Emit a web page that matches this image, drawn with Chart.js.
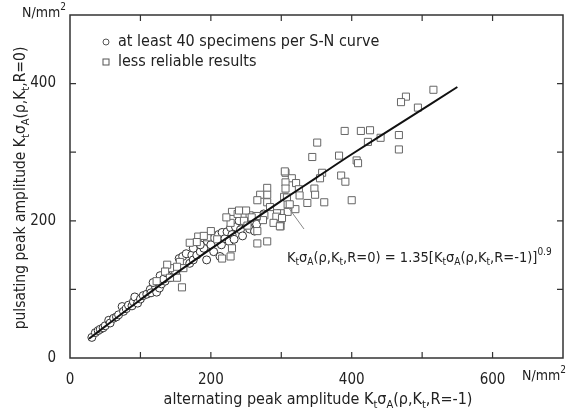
<!DOCTYPE html>
<html>
<head>
<meta charset="utf-8">
<script src="https://cdn.jsdelivr.net/npm/chart.js@4.4.1/dist/chart.umd.min.js"></script>
<style>html, body { margin: 0; background: #fff; }</style>
</head>
<body>
<canvas id="myChart" width="576" height="415"></canvas>
<script>
// circles: at least 40 specimens per S-N curve
const circleX = [31,36,40,43,47,50,55,57,62,66,69,74,76,80,83,88,90,92,96,100,104,109,114,115,121,123,127,130,135,142,118,128,133,137,146,150,155,160,165,170,173,175,180,185,190,194,195,200,204,205,213,215,211,216,220,223,226,228,230,233,235,240,242,245,250,255,260,262,265,270,275,185,175];
const circleY = [30,37,40,42,44,47,55,51,58,60,63,75,68,72,77,76,82,89,80,86,91,93,100,95,105,96,102,108,112,117,110,120,115,124,128,125,145,148,152,138,150,143,150,155,160,143,170,165,155,175,148,165,180,183,174,184,170,190,180,173,191,200,187,178,195,188,200,185,195,205,210,165,160];
// squares: less reliable results
const squareX = [516,477,470,494,390,413,426,351,423,441,467,467,344,382,407,409,358,355,385,391,347,348,337,361,400,306,315,306,321,306,325,326,304,309,320,309,299,299,299,280,280,270,266,280,284,308,312,294,293,301,289,298,276,274,265,266,280,230,238,255,265,266,228,247,252,230,216,228,182,180,195,209,159,152,156,161,152,142,138,135,142,123,305,250,258,240,222,200,190,170];
const squareY = [391,381,373,365,331,331,332,314,315,321,325,304,293,295,288,284,270,262,266,257,247,238,226,227,230,270,262,256,255,247,246,237,235,224,217,213,211,201,192,248,238,238,230,227,220,234,224,211,206,204,197,192,208,201,206,167,170,213,210,208,207,185,197,200,193,160,145,148,177,169,176,173,103,117,140,131,133,131,136,126,117,112,272,215,205,215,205,185,178,168];
// fitted curve
const fitX = [27,60,100,150,200,250,300,350,400,475,550];
const fitY = [28,54,85,123,159,194,229,263,297,346,395];
const xLabels = [0, 200, 400, 600];
const yLabels = [0, 200, 400];

const FONT = "'DejaVu Sans Condensed', 'Liberation Sans Narrow', sans-serif";
const INK = '#222';

function toPts(xs, ys) {
  return xs.map((x, i) => ({ x: x, y: ys[i] }));
}

// text with sub/superscripts: parts = [[text, kind], ...]
function drawRich(c, parts, x, y, size, align) {
  const small = Math.round(size * 0.68);
  let w = 0;
  parts.forEach(p => {
    c.font = (p[1] ? small : size) + 'px ' + FONT;
    w += c.measureText(p[0]).width;
  });
  let cx = align === 'center' ? x - w / 2 : x;
  c.textBaseline = 'middle';
  c.textAlign = 'left';
  parts.forEach(p => {
    c.font = (p[1] ? small : size) + 'px ' + FONT;
    let dy = 0;
    if (p[1] === 'sub') dy = size * 0.3;
    if (p[1] === 'sup') dy = -size * 0.4;
    c.fillText(p[0], cx, y + dy);
    cx += c.measureText(p[0]).width;
  });
}

const decor = {
  id: 'decor',
  afterDraw(chart) {
    const c = chart.ctx;
    const a = chart.chartArea;
    const xs = chart.scales.x, ys = chart.scales.y;
    c.save();
    c.strokeStyle = '#333';
    c.lineWidth = 1.5;
    c.strokeRect(a.left, a.top, a.right - a.left, a.bottom - a.top);
    c.lineWidth = 1.2;
    c.beginPath();
    for (let v = 100; v < 700; v += 100) {
      const px = xs.getPixelForValue(v);
      c.moveTo(px, a.bottom); c.lineTo(px, a.bottom - 6);
      c.moveTo(px, a.top); c.lineTo(px, a.top + 6);
    }
    for (let v = 100; v < 500; v += 100) {
      const py = ys.getPixelForValue(v);
      c.moveTo(a.left, py); c.lineTo(a.left + 6, py);
      c.moveTo(a.right, py); c.lineTo(a.right - 6, py);
    }
    c.stroke();

    c.fillStyle = INK;
    // units
    drawRich(c, [['N/mm', ''], ['2', 'sup']], 22, 13, 14, 'left');
    drawRich(c, [['N/mm', ''], ['2', 'sup']], 522, 376, 14, 'left');

    // legend
    c.strokeStyle = '#555';
    c.lineWidth = 1;
    c.beginPath(); c.arc(106, 42, 3, 0, Math.PI * 2); c.stroke();
    c.strokeRect(103, 59, 6, 6);
    drawRich(c, [['at least 40 specimens per S-N curve', '']], 118, 42, 16, 'left');
    drawRich(c, [['less reliable results', '']], 118, 62, 16, 'left');

    // equation with leader line
    c.strokeStyle = '#888';
    c.beginPath(); c.moveTo(288, 207); c.lineTo(304, 229); c.stroke();
    drawRich(c, [['K', ''], ['t', 'sub'], ['σ', ''], ['A', 'sub'], ['(ρ,K', ''], ['t', 'sub'], [',R=0) = 1.35[K', ''], ['t', 'sub'], ['σ', ''], ['A', 'sub'], ['(ρ,K', ''], ['t', 'sub'], [',R=-1)]', ''], ['0.9', 'sup']], 287, 258, 14.5, 'left');

    // axis titles
    drawRich(c, [['alternating peak amplitude K', ''], ['t', 'sub'], ['σ', ''], ['A', 'sub'], ['(ρ,K', ''], ['t', 'sub'], [',R=-1)', '']], 318, 400, 16, 'center');
    c.translate(21, 188);
    c.rotate(-Math.PI / 2);
    drawRich(c, [['pulsating peak amplitude K', ''], ['t', 'sub'], ['σ', ''], ['A', 'sub'], ['(ρ,K', ''], ['t', 'sub'], [',R=0)', '']], 0, 0, 15.5, 'center');
    c.restore();
  }
};

const ctx = document.getElementById('myChart');
new Chart(ctx, {
  type: 'scatter',
  data: {
    datasets: [
      {
        label: 'fit',
        type: 'line',
        data: toPts(fitX, fitY),
        borderColor: '#111',
        borderWidth: 2,
        pointRadius: 0,
        tension: 0.3,
        order: 0
      },
      {
        label: 'at least 40 specimens per S-N curve',
        data: toPts(circleX, circleY),
        pointStyle: 'circle',
        pointRadius: 4,
        borderColor: '#333',
        backgroundColor: '#fff',
        borderWidth: 1,
        order: 2
      },
      {
        label: 'less reliable results',
        data: toPts(squareX, squareY),
        pointStyle: 'rect',
        pointRadius: 5,
        borderColor: '#666',
        backgroundColor: '#fff',
        borderWidth: 1,
        order: 1
      }
    ]
  },
  options: {
    responsive: false,
    animation: false,
    layout: { padding: { top: 5, right: 13, left: 0, bottom: 0 } },
    plugins: { legend: { display: false }, tooltip: { enabled: false } },
    scales: {
      x: {
        type: 'linear',
        min: 0,
        max: 700,
        afterFit: s => { s.height = 57; },
        grid: { display: false },
        border: { display: false },
        ticks: {
          stepSize: 100,
          padding: 5,
          color: INK,
          font: { family: FONT, size: 15 },
          maxRotation: 0,
          callback: v => xLabels.includes(v) ? String(v) : ''
        }
      },
      y: {
        min: 0,
        max: 500,
        afterFit: s => { s.width = 70; },
        grid: { display: false },
        border: { display: false },
        ticks: {
          stepSize: 100,
          padding: 6,
          color: INK,
          font: { family: FONT, size: 15 },
          callback: v => yLabels.includes(v) ? String(v) : ''
        }
      }
    }
  },
  plugins: [decor]
});
</script>
</body>
</html>
